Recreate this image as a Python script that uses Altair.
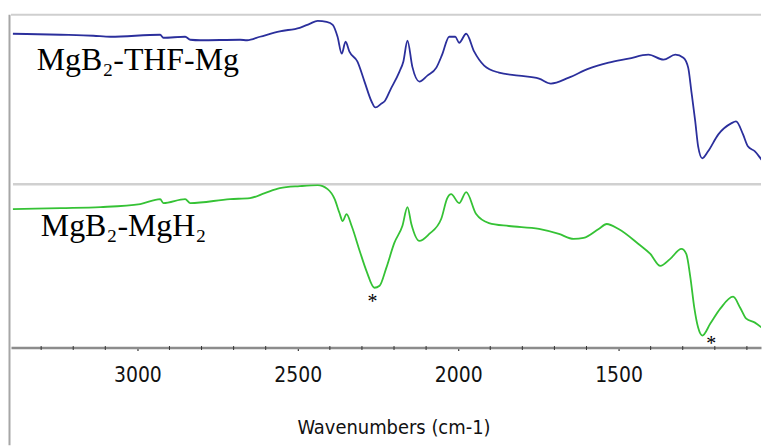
import altair as alt
import pandas as pd

# --- MgB2-THF-Mg (top, blue) : wavenumber (cm-1) and relative transmittance (a.u.)
wn_thf = [3388, 3239, 3137, 3084, 2929, 2919, 2851, 2835, 2804, 2680, 2658, 2618, 2556, 2494,
          2463, 2438, 2410, 2391, 2376, 2363, 2351, 2339, 2314, 2292, 2270, 2258, 2239, 2230,
          2211, 2183, 2171, 2158, 2143, 2121, 2096, 2068, 2050, 2028, 2009, 1997, 1975, 1950,
          1919, 1873, 1811, 1748, 1711, 1655, 1593, 1531, 1469, 1407, 1360, 1323, 1298, 1283,
          1273, 1261, 1252, 1239, 1221, 1189, 1149, 1134, 1112, 1097, 1075, 1050, 1031]
tr_thf = [151, 150, 149, 148, 150, 147, 148, 145, 144.5, 145, 144.5, 148, 153.5, 157,
          161, 164, 163, 160, 148, 131, 143, 133, 123, 103, 83, 77, 81, 83,
          95, 113, 123, 144, 118, 103, 109, 117, 130, 148, 148, 142, 151, 133,
          119, 112, 109, 106, 101, 107, 116, 122, 126, 130, 125, 130, 127, 117,
          93, 63, 38, 26, 33, 50, 61, 63, 50, 38, 33, 23, 18]

# --- MgB2-MgH2 (bottom, green)
wn_mgh = [3388, 3239, 3115, 2991, 2929, 2919, 2851, 2835, 2711, 2649, 2603, 2556, 2494, 2438,
          2407, 2385, 2370, 2360, 2348, 2332, 2307, 2286, 2261, 2245, 2224, 2199, 2174, 2158,
          2146, 2121, 2090, 2053, 2034, 2022, 1997, 1975, 1944, 1904, 1842, 1748, 1686, 1640,
          1609, 1562, 1537, 1500, 1438, 1401, 1370, 1339, 1304, 1289, 1276, 1264, 1252, 1239,
          1214, 1183, 1143, 1121, 1102, 1075, 1050, 1031]
tr_mgh = [139, 140, 141, 144, 149, 145, 149, 145, 149, 150, 155, 160, 162, 163,
          159, 149, 135, 127, 134, 122, 97, 77, 60, 62, 80, 105, 122, 141,
          124, 107, 114, 129, 150, 154, 145, 156, 134, 125, 122, 119, 114, 109,
          110, 119, 124, 119, 104, 94, 82, 89, 99, 94, 70, 40, 20, 12,
          24, 39, 51, 40, 29, 25, 19, 14]

# labels / annotations
label_names = ["MgB₂-THF-Mg", "MgB₂-MgH₂"]
label_wn = [3314, 3301]
label_tr = [115, 112]
star_wn = [2267, 1211]
star_tr = [50, 8]

major_ticks = [3000, 2500, 2000, 1500]
minor_ticks = [v for v in range(1100, 3400, 100) if v % 500 != 0]
x_domain = [3394, 1056]

W = 753
H_TOP = 170
H_BOT = 164

SANS = "DejaVu Sans Condensed, Liberation Sans Narrow, Arial Narrow, Liberation Sans, Arial"
SERIF = "Liberation Serif, Times New Roman, DejaVu Serif"

xscale = alt.Scale(domain=x_domain, nice=False, zero=False)

top_df = pd.DataFrame({"wn": wn_thf, "tr": tr_thf})
bot_df = pd.DataFrame({"wn": wn_mgh, "tr": tr_mgh})
minor_df = pd.DataFrame({"wn": minor_ticks})
one = pd.DataFrame({"k": [0]})

y_top = alt.Y("tr:Q", scale=alt.Scale(domain=[0, H_TOP], nice=False, zero=False), axis=None)
y_bot = alt.Y("tr:Q", scale=alt.Scale(domain=[0, H_BOT], nice=False, zero=False), axis=None)

top_line = alt.Chart(top_df).mark_line(
    color="#2b2f9c", strokeWidth=1.8, interpolate="monotone", clip=True
).encode(x=alt.X("wn:Q", scale=xscale, axis=None), y=y_top)

top_label = alt.Chart(pd.DataFrame({"wn": [label_wn[0]], "tr": [label_tr[0]], "t": [label_names[0]]})).mark_text(
    font=SERIF, fontSize=32, align="left", baseline="alphabetic", color="#000000"
).encode(x=alt.X("wn:Q", scale=xscale, axis=None), y=y_top, text="t:N")

top_border = alt.Chart(one).mark_rule(color="#cfcfcf", strokeWidth=2).encode(
    x=alt.value(0), x2=alt.value(W), y=alt.value(0)
)
left_frame = alt.Chart(one).mark_rule(color="#a6a6a6", strokeWidth=2).encode(
    x=alt.value(-1.5), y=alt.value(0), y2=alt.value(432)
)

top = alt.layer(top_border, left_frame, top_line, top_label).properties(width=W, height=H_TOP)

bot_axis = alt.Axis(
    values=major_ticks, format="d",
    labelOverlap=False, labelFlush=False,
    tickSize=3, tickColor="#333333", tickWidth=1.2,
    domainColor="#8c8c8c", domainWidth=2.5,
    labelFont=SANS, labelFontSize=21, labelColor="#111111", labelPadding=14,
    title="Wavenumbers (cm-1)", titleFont=SANS, titleFontSize=20, titleFontWeight="normal",
    titleColor="#111111", titlePadding=32, titleX=384, titleAlign="center",
    grid=False,
)

bot_line = alt.Chart(bot_df).mark_line(
    color="#35c235", strokeWidth=1.8, interpolate="monotone", clip=True
).encode(x=alt.X("wn:Q", scale=xscale, axis=bot_axis), y=y_bot)

minor = alt.Chart(minor_df).mark_rule(color="#333333", strokeWidth=1).encode(
    x=alt.X("wn:Q", scale=xscale),
    y=alt.value(H_BOT - 1.5), y2=alt.value(H_BOT + 2.5)
)

bot_label = alt.Chart(pd.DataFrame({"wn": [label_wn[1]], "tr": [label_tr[1]], "t": [label_names[1]]})).mark_text(
    font=SERIF, fontSize=32, align="left", baseline="alphabetic", color="#000000"
).encode(x=alt.X("wn:Q", scale=xscale), y=y_bot, text="t:N")

stars = alt.Chart(pd.DataFrame({"wn": star_wn, "tr": star_tr, "t": ["*", "*"]})).mark_text(
    font=SERIF, fontSize=20, align="center", baseline="middle", dy=4, color="#000000"
).encode(x=alt.X("wn:Q", scale=xscale), y=y_bot, text="t:N")

separator = alt.Chart(one).mark_rule(color="#d0d0d0", strokeWidth=2.5).encode(
    x=alt.value(2), x2=alt.value(W), y=alt.value(0)
)

bottom = alt.layer(separator, bot_line, minor, bot_label, stars).properties(width=W, height=H_BOT)

chart = alt.vconcat(top, bottom, spacing=0, bounds="flush").properties(
    padding={"left": 0, "top": 5, "right": 0, "bottom": 0}
).configure_view(strokeWidth=0).configure_concat(spacing=0)

chart.save("out.html", embed_options={"renderer": "svg", "actions": False})
